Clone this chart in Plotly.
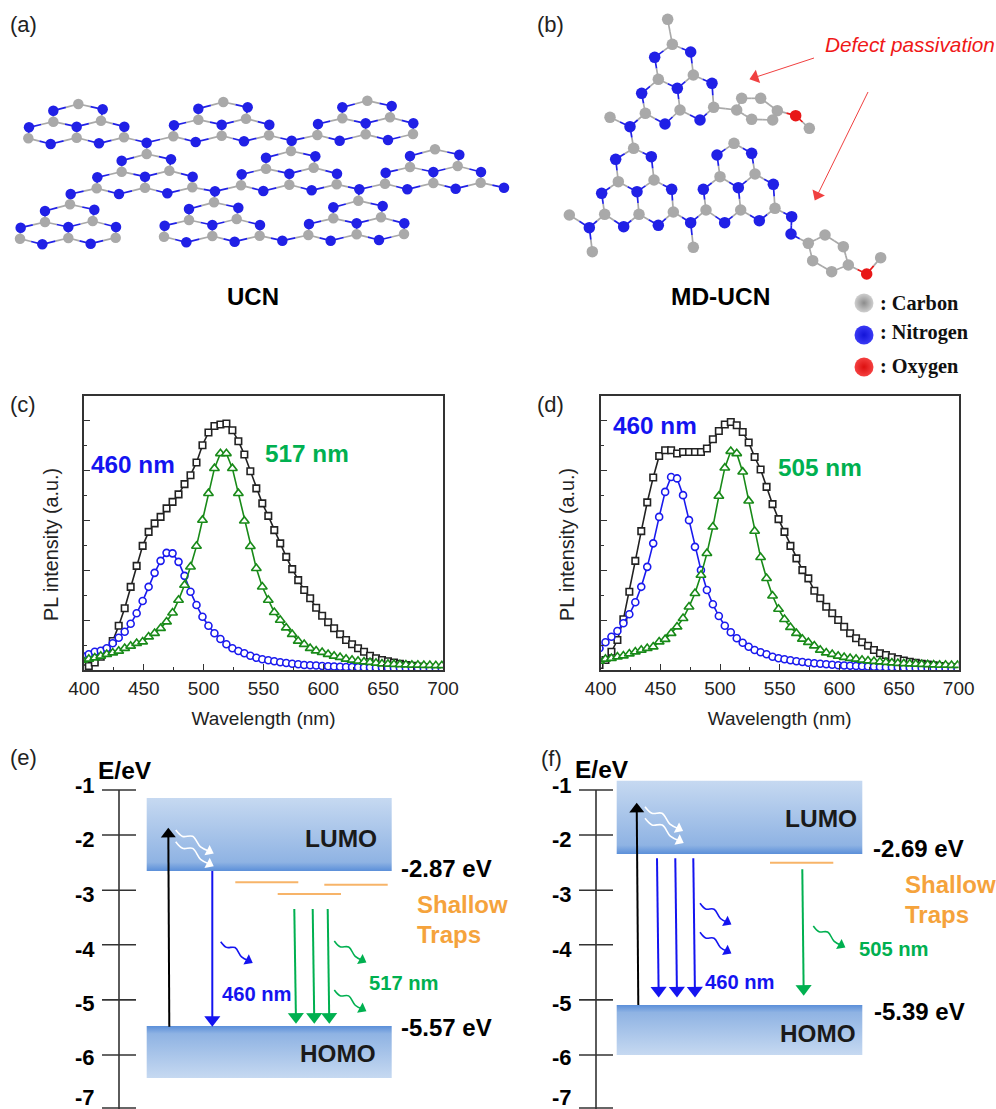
import math
import plotly.graph_objects as go

W, H = 996, 1109
SANS = "Liberation Sans"
SERIF = "Liberation Serif"

wavelength = [399,404,409,414,419,424,429,434,439,444,449,454,459,464,469,474,479,484,489,494,
              499,504,509,514,519,524,529,534,539,544,549,554,559,564,569,574,579,584,589,594,
              599,604,609,614,619,624,629,634,639,644,649,654,659,664,669,674,679,684,689,694,699]

c_total = [.007,.016,.03,.053,.08,.116,.177,.247,.333,.417,.497,.553,.587,.613,.647,.673,.703,.744,.78,.831,
           .9,.951,.977,.983,.987,.96,.916,.863,.796,.727,.667,.617,.56,.507,.453,.404,.36,.32,.287,.249,
           .217,.191,.167,.143,.12,.103,.087,.073,.057,.047,.04,.035,.03,.025,.02,.017,.014,.011,.009,.007,.005]
c_blue = [.055,.063,.073,.077,.087,.107,.129,.153,.185,.227,.276,.333,.389,.437,.469,.467,.433,.377,.313,.26,
          .213,.177,.147,.124,.103,.087,.076,.067,.057,.049,.043,.039,.035,.031,.028,.025,.023,.02,.019,.018,
          .016,.015,.014,.013,.012,.012,.011,.01,.01,.009,.009,.008,.008,.008,.007,.007,.007,.006,.006,.006,.006]
c_green = [.04,.044,.049,.056,.063,.069,.076,.087,.096,.107,.113,.133,.147,.167,.193,.229,.28,.34,.413,.496,
           .6,.707,.807,.867,.867,.807,.707,.597,.495,.407,.333,.28,.231,.2,.169,.143,.116,.103,.087,.077,
           .071,.063,.056,.051,.044,.04,.036,.033,.031,.028,.025,.024,.023,.022,.021,.02,.02,.019,.019,.018,.018]

d_total = [.02,.04,.073,.12,.203,.313,.437,.556,.671,.771,.857,.88,.88,.867,.873,.873,.873,.873,.887,.924,
           .957,.983,.993,.98,.953,.911,.853,.803,.733,.664,.604,.553,.497,.447,.4,.367,.317,.287,.253,.227,
           .2,.173,.147,.127,.111,.097,.08,.067,.06,.051,.044,.038,.033,.029,.025,.022,.019,.016,.013,.011,.01]
d_blue = [.087,.111,.133,.156,.187,.223,.271,.333,.413,.507,.613,.713,.773,.767,.7,.6,.493,.4,.32,.263,
          .216,.177,.151,.127,.109,.093,.08,.071,.063,.053,.047,.043,.039,.035,.032,.029,.027,.025,.023,.021,
          .019,.018,.017,.016,.015,.014,.013,.012,.011,.011,.01,.009,.009,.008,.008,.007,.007,.006,.006,.005,.005]
d_green = [.036,.044,.047,.053,.057,.065,.073,.08,.087,.093,.113,.123,.147,.173,.207,.253,.307,.38,.467,.573,
           .696,.809,.876,.867,.793,.677,.556,.451,.367,.297,.244,.203,.171,.147,.124,.111,.097,.08,.069,.063,
           .056,.051,.047,.044,.04,.037,.035,.033,.031,.029,.027,.026,.025,.024,.023,.022,.021,.02,.02,.019,.019]

energy_labels = ["-1", "-2", "-3", "-4", "-5", "-6", "-7"]
energy_label_pos = [-0.906, -1.925, -2.96, -4.0, -5.02, -6.04, -6.8]
energy_tick_pos = [-1.0, -1.85, -2.89, -3.92, -4.96, -6.0, -7.0]

C_GRAY, C_BLUE, C_RED = "#a9a9a9", "#2020e6", "#e81818"
BLUE, GREEN, ORANGE = "#1414f0", "#00b050", "#f5a33c"
BAND_LIGHT, BAND_MID, BAND_DARK = "#c6d9f1", "#8fb3e3", "#5b8fd9"
fig = go.Figure()


def line(x, y, color, width=2, xa="x3", ya="y3", **kw):
    fig.add_trace(go.Scatter(x=x, y=y, mode="lines", xaxis=xa, yaxis=ya, hoverinfo="skip",
                             line=dict(color=color, width=width, **kw), showlegend=False))


def pull_back(xp, yp, x1, y1, d):
    """End of the shaft: the head's centre sits d pixels before the tip."""
    L = math.hypot(x1 - xp, y1 - yp) or 1
    return x1 - (x1 - xp) / L * d, y1 - (y1 - yp) / L * d


def arrow(x0, y0, x1, y1, color, width=2, size=13):
    ex, ey = pull_back(x0, y0, x1, y1, size * .45)
    fig.add_trace(go.Scatter(x=[x0, ex], y=[y0, ey], mode="lines+markers", xaxis="x3", yaxis="y3",
                             hoverinfo="skip", showlegend=False, line=dict(color=color, width=width),
                             marker=dict(symbol="triangle-up", size=[0, size], color=color, angleref="previous",
                                         opacity=1, line=dict(width=0))))


WAVE = [(0, 0), (.21, .04), (.4, -.08), (.68, .03), (1, 0)]


def wave(x0, y0, x1, y1, color, size=10):
    dx, dy = x1 - x0, y1 - y0
    xs = [x0 + t * dx - n * dy for t, n in WAVE]
    ys = [y0 + t * dy + n * dx for t, n in WAVE]
    xs[-1], ys[-1] = pull_back(xs[-2], ys[-2], xs[-1], ys[-1], size * .45)
    fig.add_trace(go.Scatter(x=xs, y=ys, mode="lines+markers", xaxis="x3", yaxis="y3", hoverinfo="skip",
                             showlegend=False, line=dict(color=color, width=1.6, shape="spline", smoothing=1),
                             marker=dict(symbol="triangle-up", size=[0] * (len(WAVE) - 1) + [size], color=color,
                                         angleref="previous", opacity=1, line=dict(width=0))))


def band(l, r, t, b, stops):
    fig.add_trace(go.Scatter(x=[l, r, r, l, l], y=[t, t, b, b, t], mode="lines", fill="toself",
                             xaxis="x3", yaxis="y3", hoverinfo="skip", showlegend=False, line=dict(width=0),
                             fillgradient=dict(type="vertical", colorscale=stops)))


LUMO_STOPS = [[0, BAND_DARK], [.12, BAND_MID], [1, BAND_LIGHT]]
HOMO_STOPS = [[0, BAND_LIGHT], [.85, BAND_MID], [1, BAND_DARK]]


def atoms_and_bonds(atoms, bonds, size=10):
    """atoms: list of (x, y, element) ; bonds: index pairs. Half-bonds take the colour of their atom."""
    colors = {"C": C_GRAY, "N": C_BLUE, "O": C_RED}
    for el, col in colors.items():
        xs, ys = [], []
        for a, b in bonds:
            for p, q in ((a, b), (b, a)):
                if atoms[p][2] == el:
                    xs += [atoms[p][0], (atoms[p][0] + atoms[q][0]) / 2, None]
                    ys += [atoms[p][1], (atoms[p][1] + atoms[q][1]) / 2, None]
        if xs:
            line(xs, ys, col, 1.7)
    for el, col in colors.items():
        xs = [a[0] for a in atoms if a[2] == el]
        ys = [a[1] for a in atoms if a[2] == el]
        if xs:
            fig.add_trace(go.Scatter(x=xs, y=ys, mode="markers", xaxis="x3", yaxis="y3", hoverinfo="skip",
                                     showlegend=False, marker=dict(size=size, color=col, line=dict(width=0))))


# ---------- panel (a) : heptazine sheet ----------
UNIT = [(0, 0, "C"), (-75, 20, "N"), (73, 16, "N"), (-75, 53, "C"), (68, 50, "C"), (-148, 70, "N"), (-5, 68, "N"),
        (138, 68, "N"), (-150, 103, "C"), (-5, 101, "C"), (137, 100, "C"), (-83, 120, "N"), (62, 118, "N")]
UNIT_BONDS = [(0, 1), (0, 2), (1, 3), (2, 4), (3, 5), (3, 6), (4, 6), (4, 7), (5, 8), (6, 9), (7, 10), (8, 11),
              (9, 11), (9, 12), (10, 12)]
a_tops = [(235, 312), (670, 306), (1102, 302), (440, 462), (873, 453), (1305, 448), (210, 613), (642, 607), (1075, 602)]
a_atoms, a_bonds = [], []
for ux, uy in a_tops:
    base = len(a_atoms)
    a_atoms += [((ux + dx) / 3, (uy + dy) / 3, e) for dx, dy, e in UNIT]
    a_bonds += [(base + i, base + j) for i, j in UNIT_BONDS]
LEFT, RIGHT, TOP = 8, 10, 0
a_links = [(440, 428, [(0, RIGHT), (1, LEFT), (3, TOP)]), (875, 422, [(1, RIGHT), (2, LEFT), (4, TOP)]),
           (645, 574, [(3, RIGHT), (4, LEFT), (7, TOP)]), (1078, 568, [(4, RIGHT), (5, LEFT), (8, TOP)]),
           (212, 582, [(3, LEFT), (6, TOP)]), (847, 722, [(7, RIGHT), (8, LEFT)]), (1512, 563, [(5, RIGHT)])]
for lx, ly, conns in a_links:
    idx = len(a_atoms)
    a_atoms.append((lx / 3, ly / 3, "N"))
    a_bonds += [(idx, u * 13 + k) for u, k in conns]
atoms_and_bonds(a_atoms, a_bonds, 10.5)

# ---------- panel (b) : MD-UCN ----------
b_raw = [(427, 133, "C"), (374, 172, "N"), (482, 156, "N"), (385, 238, "C"), (490, 225, "C"), (335, 280, "N"),
         (442, 265, "N"), (546, 250, "N"), (346, 340, "C"), (450, 330, "C"), (551, 322, "C"), (405, 372, "N"),
         (510, 360, "N"),
         (311, 445, "C"), (257, 478, "N"), (364, 470, "N"), (265, 545, "C"), (372, 540, "C"), (215, 580, "N"),
         (321, 575, "N"), (425, 568, "N"), (224, 643, "C"), (327, 643, "C"), (430, 636, "C"), (281, 680, "N"),
         (385, 676, "N"),
         (612, 430, "C"), (561, 465, "N"), (665, 460, "N"), (570, 530, "C"), (675, 522, "C"), (520, 568, "N"),
         (625, 563, "N"), (730, 553, "N"), (528, 630, "C"), (632, 630, "C"), (735, 625, "C"), (584, 668, "N"),
         (688, 662, "N"),
         (413, 58, "C"),
         (620, 330, "C"), (635, 295, "C"), (692, 295, "C"), (742, 332, "C"), (728, 360, "C"), (665, 358, "C"),
         (797, 347, "O"), (838, 385, "C"),
         (300, 380, "N"), (240, 352, "C"),
         (178, 683, "N"), (118, 645, "C"), (187, 755, "C"),
         (482, 668, "N"), (490, 742, "C"),
         (785, 650, "N"), (783, 702, "N"),
         (835, 730, "C"), (885, 705, "C"), (940, 740, "C"), (955, 795, "C"), (905, 815, "C"), (848, 782, "C"),
         (1010, 822, "O"), (1052, 773, "C")]
b_atoms = [(530 + x / 3, y / 3, e) for x, y, e in b_raw]
b_bonds = [(i * 13 + p, i * 13 + q) for i in range(3) for p, q in UNIT_BONDS]
b_bonds += [(39, 0), (10, 40), (40, 41), (41, 42), (42, 43), (43, 44), (44, 45), (45, 40), (43, 46), (46, 47),
            (8, 48), (48, 49), (48, 13), (21, 50), (50, 51), (50, 52), (23, 53), (53, 34), (53, 54),
            (36, 55), (55, 56), (56, 57), (57, 58), (58, 59), (59, 60), (60, 61), (61, 62), (62, 57), (60, 63),
            (63, 64)]
atoms_and_bonds(b_atoms, b_bonds, 11.5)
arrow(814, 58, 750, 79, "#f04040", 1, 12)
arrow(868, 92, 815, 200, "#f04040", 1, 12)
fig.add_trace(go.Scatter(x=[864, 864, 864], y=[303, 335, 367], mode="markers", xaxis="x3", yaxis="y3",
                         hoverinfo="skip", showlegend=False,
                         marker=dict(size=19, color=["#cfcfcf", "#3a3af5", "#f54040"], line=dict(width=0),
                                     gradient=dict(type="radial", color=["#8c8c8c", "#1414d8", "#dc1010"]))))

# ---------- panels (c), (d) ----------
for xa, ya, tot, blu, gre in (("x", "y", c_total, c_blue, c_green), ("x2", "y2", d_total, d_blue, d_green)):
    for vals, lc, sym, ms in ((tot, "#222222", "square", 6.5), (blu, "#1a1aee", "circle", 7),
                              (gre, "#188a18", "triangle-up", 8.5)):
        assert len(vals) == len(wavelength)
        fig.add_trace(go.Scatter(x=wavelength, y=vals, mode="lines+markers", xaxis=xa, yaxis=ya, showlegend=False,
                                 line=dict(color=lc, width=1.6),
                                 marker=dict(symbol=sym, size=ms, color="white", line=dict(color=lc, width=1.6))))

# ---------- panel (e) ----------
band(146.7, 391.7, 798, 871, LUMO_STOPS)
band(146.7, 391.7, 1026, 1078, HOMO_STOPS)
for x0, x1, y in ((235.3, 298.3, 882.3), (324.3, 387.7, 884.7), (277.7, 341, 894)):
    line([x0, x1], [y, y], "#f7b469", 2)
arrow(169.3, 1026.7, 168.3, 828.3, "#000000", 2, 13)
arrow(212.3, 871, 212.3, 1026, BLUE, 2, 14)
for x0, x1 in ((294.3, 296), (312.7, 314.3), (327.7, 329.3)):
    arrow(x0, 909, x1, 1023, GREEN, 2, 14)
wave(175.7, 830, 213.3, 853.3, "#ffffff")
wave(175.7, 841.7, 213.3, 866, "#ffffff")
wave(220.7, 941.7, 252.3, 962.7, BLUE)
wave(334.3, 941, 366, 962.3, GREEN)
wave(334.3, 990, 366, 1011, GREEN)

# ---------- panel (f) ----------
band(616.7, 862.3, 780.7, 854, LUMO_STOPS)
band(616.7, 862.3, 1005, 1055, HOMO_STOPS)
line([770, 833.3], [862.7, 862.7], "#f7b469", 2)
arrow(638.3, 1005, 636.7, 803.3, "#000000", 2, 13)
for x0, x1 in ((657, 658.7), (675.3, 677), (693.3, 695)):
    arrow(x0, 858.3, x1, 996.7, BLUE, 2, 14)
arrow(802.3, 869.3, 803.7, 995, GREEN, 2, 14)
wave(645, 806.7, 682.7, 830.7, "#ffffff")
wave(645, 818.3, 683.3, 842.7, "#ffffff")
wave(700, 903.3, 731, 924.3, BLUE)
wave(700, 932.3, 731, 953.3, BLUE)
wave(813.3, 926, 845, 947.3, GREEN)

# energy scales
for ya, cx in (("y4", 119), ("y5", 596)):
    xs, ys = [cx, cx], [-1.0, -7.02]
    for e in energy_tick_pos:
        xs += [None, cx - 17, cx + 17]
        ys += [None, e, e]
    line(xs, ys, "#333333", 1.6, xa="x3", ya=ya)

# ---------- text ----------
texts = [
    ("(a)", 10, 24, "left", 22, "#222222", None, None, SANS, 0),
    ("(b)", 537, 24, "left", 22, "#222222", None, None, SANS, 0),
    ("(c)", 10, 404, "left", 22, "#222222", None, None, SANS, 0),
    ("(d)", 537, 404, "left", 22, "#222222", None, None, SANS, 0),
    ("(e)", 10, 757, "left", 22, "#222222", None, None, SANS, 0),
    ("(f)", 541, 758, "left", 22, "#222222", None, None, SANS, 0),
    ("UCN", 253, 296, "center", 24, "#000000", 700, None, SANS, 0),
    ("MD-UCN", 720, 296, "center", 24.5, "#000000", 700, None, SANS, 0),
    ("Defect passivation", 825, 44, "left", 20.8, "#f01818", None, "italic", SANS, 0),
    (": Carbon", 880, 303, "left", 20.3, "#111111", 700, None, SERIF, 0),
    (": Nitrogen", 880, 332, "left", 20.3, "#111111", 700, None, SERIF, 0),
    (": Oxygen", 880, 366, "left", 20.3, "#111111", 700, None, SERIF, 0),
    ("PL intensity (a.u.)", 51, 545, "center", 19.8, "#222222", None, None, SANS, -90),
    ("PL intensity (a.u.)", 567, 545, "center", 19.8, "#222222", None, None, SANS, -90),
    ("460 nm", 91, 464, "left", 24.3, BLUE, 700, None, SANS, 0),
    ("517 nm", 265, 453, "left", 24.3, GREEN, 700, None, SANS, 0),
    ("460 nm", 613, 425, "left", 24.3, BLUE, 700, None, SANS, 0),
    ("505 nm", 778, 467, "left", 24.3, GREEN, 700, None, SANS, 0),
    ("E/eV", 125, 770, "center", 24.5, "#000000", 700, None, SANS, 0),
    ("E/eV", 602, 769, "center", 24.5, "#000000", 700, None, SANS, 0),
    ("LUMO", 340.7, 838, "center", 24.5, "#1a1a1a", 700, None, SANS, 0),
    ("HOMO", 338, 1053, "center", 24.3, "#1a1a1a", 700, None, SANS, 0),
    ("LUMO", 821, 818, "center", 24.5, "#1a1a1a", 700, None, SANS, 0),
    ("HOMO", 818, 1033, "center", 24.3, "#1a1a1a", 700, None, SANS, 0),
    ("-2.87 eV", 401, 868, "left", 24, "#000000", 700, None, SANS, 0),
    ("-5.57 eV", 401, 1027, "left", 24, "#000000", 700, None, SANS, 0),
    ("-2.69 eV", 873, 848, "left", 24, "#000000", 700, None, SANS, 0),
    ("-5.39 eV", 874, 1011, "left", 24, "#000000", 700, None, SANS, 0),
    ("Shallow", 417, 904, "left", 24, ORANGE, 700, None, SANS, 0),
    ("Traps", 417, 934, "left", 24, ORANGE, 700, None, SANS, 0),
    ("Shallow", 905, 884, "left", 24, ORANGE, 700, None, SANS, 0),
    ("Traps", 905, 914, "left", 24, ORANGE, 700, None, SANS, 0),
    ("460 nm", 222, 994, "left", 20.2, BLUE, 700, None, SANS, 0),
    ("517 nm", 369, 983, "left", 20.2, GREEN, 700, None, SANS, 0),
    ("460 nm", 705, 982, "left", 20.2, BLUE, 700, None, SANS, 0),
    ("505 nm", 859, 949, "left", 20.2, GREEN, 700, None, SANS, 0),
]
annotations = [dict(text=t, x=x - (2 if a == "left" else 0), y=y, xref="x3", yref="y3", xanchor=a, yanchor="middle",
                    showarrow=False, textangle=ang,
                    font=dict(family=fam, size=s, color=c, weight=w or 400, style=st or "normal"))
               for t, x, y, a, s, c, w, st, fam, ang in texts]

# ---------- layout ----------
def px_x(v):
    return v / W


def px_y(v):
    return 1 - v / H


wave_axis = dict(range=[400, 700], tickvals=[400, 450, 500, 550, 600, 650, 700], ticks="inside", ticklen=6,
                 tickwidth=1.2, tickcolor="#333333", showline=True, linecolor="#333333", linewidth=1.6, mirror=True,
                 showgrid=False, zeroline=False, automargin=False, tickfont=dict(family=SANS, size=19, color="#222222"),
                 minor=dict(tickvals=[425, 475, 525, 575, 625, 675], ticks="inside", ticklen=3, tickcolor="#333333"),
                 title=dict(text="Wavelength (nm)", font=dict(family=SANS, size=19, color="#222222"), standoff=14))
pl_axis = dict(range=[0, 1.097], tickvals=[.2, .4, .6, .8, 1.0], ticks="inside", ticklen=6, tickwidth=1.2,
               tickcolor="#333333", showline=True, linecolor="#333333", linewidth=1.6, mirror=True, showgrid=False,
               zeroline=False, showticklabels=False, automargin=False,
               minor=dict(tickvals=[.1, .3, .5, .7, .9], ticks="inside", ticklen=3, tickcolor="#333333"))
energy_axis = dict(domain=[0, px_y(780)], range=[-7.019, -0.811], anchor="free", tickvals=energy_label_pos,
                   ticktext=energy_labels, ticks="outside", ticklen=20, tickcolor="rgba(0,0,0,0)", showgrid=False,
                   zeroline=False, showline=False, automargin=False, ticklabeloverflow="allow",
                   tickfont=dict(family=SANS, size=22, color="#000000", weight=700))

fig.update_layout(
    width=W, height=H, autosize=False, margin=dict(l=0, r=0, t=0, b=0), paper_bgcolor="white", plot_bgcolor="rgba(0,0,0,0)",
    showlegend=False, annotations=annotations,
    xaxis=dict(domain=[px_x(84), px_x(443)], anchor="y", **wave_axis),
    yaxis=dict(domain=[px_y(670), px_y(396)], anchor="x", **pl_axis),
    xaxis2=dict(domain=[px_x(600.7), px_x(958.7)], anchor="y2", **wave_axis),
    yaxis2=dict(domain=[px_y(670), px_y(396)], anchor="x2", **pl_axis),
    xaxis3=dict(domain=[0, 1], range=[0, W], visible=False, anchor="y3", automargin=False),
    yaxis3=dict(domain=[0, 1], range=[H, 0], visible=False, anchor="x3", automargin=False),
    yaxis4=dict(position=px_x(119), **energy_axis),
    yaxis5=dict(position=px_x(596), **energy_axis),
)
fig.write_html("out.html", config={"displayModeBar": False},
               post_script="document.body.style.margin='0';document.body.style.overflow='hidden';")
